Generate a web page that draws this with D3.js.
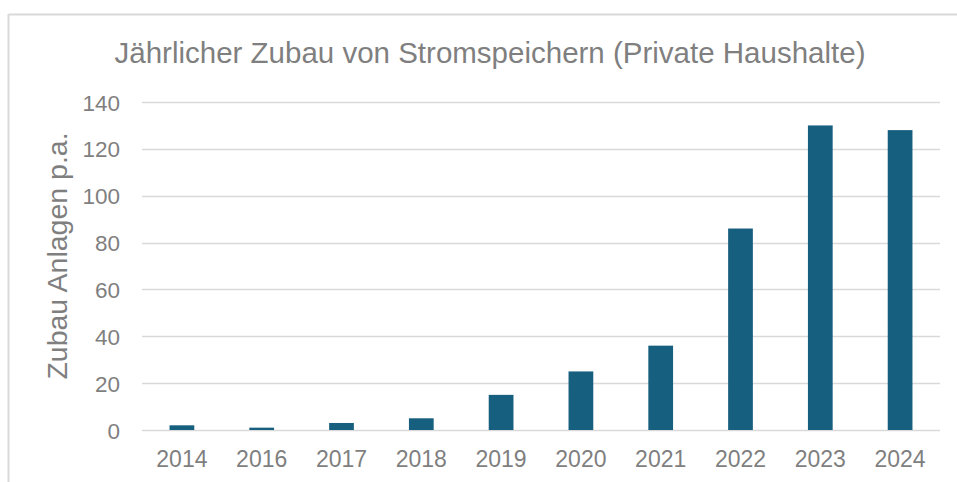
<!DOCTYPE html>
<html lang="de">
<head>
    <meta charset="utf-8" />
    <title>Jährlicher Zubau von Stromspeichern</title>
    <script src="https://d3js.org/d3.v7.min.js"></script>
    <style>
        body {
            margin: 0;
            padding: 0;
            background: #fff;
            font-family: "Liberation Sans", Arial, sans-serif;
        }
    </style>
</head>
<body>
<svg id="chart"></svg>
<script>
    var w = 957;
    var h = 482;

    // Data
    var years = ["2014", "2016", "2017", "2018", "2019", "2020", "2021", "2022", "2023", "2024"];
    var zubau = [2, 1, 3, 5, 15, 25, 36, 86, 130, 128];
    var yTicks = [0, 20, 40, 60, 80, 100, 120, 140];

    var margin = {top: 102, right: 17, bottom: 52, left: 142};

    var svg = d3.select("#chart")
                .attr("width", w)
                .attr("height", h);

    // outer frame (only top and left visible in the crop)
    svg.append("line")
        .attr("x1", 8.5).attr("x2", w)
        .attr("y1", 14.5).attr("y2", 14.5)
        .attr("stroke", "#d9d9d9").attr("stroke-width", 2);
    svg.append("line")
        .attr("x1", 8.5).attr("x2", 8.5)
        .attr("y1", 14).attr("y2", h)
        .attr("stroke", "#d9d9d9").attr("stroke-width", 2);

    var xScale = d3.scaleBand()
                .domain(years)
                .range([margin.left, w - margin.right])
                .paddingInner(0.69)
                .paddingOuter(0.345);

    var yScale = d3.scaleLinear()
                .domain([0, 140])
                .range([h - margin.bottom, margin.top]);

    // gridlines
    svg.selectAll("line.grid")
        .data(yTicks)
        .enter().append("line")
        .attr("class", "grid")
        .attr("x1", margin.left)
        .attr("x2", w - margin.right)
        .attr("y1", function(d) { return Math.round(yScale(d)) + 0.5; })
        .attr("y2", function(d) { return Math.round(yScale(d)) + 0.5; })
        .attr("stroke", "#d9d9d9")
        .attr("stroke-width", 1.5);

    // y tick labels
    svg.selectAll("text.ytick")
        .data(yTicks)
        .enter().append("text")
        .attr("class", "ytick")
        .attr("x", 120)
        .attr("y", function(d) { return yScale(d) + 8.5; })
        .attr("text-anchor", "end")
        .attr("font-size", "22.5px")
        .attr("fill", "#7f7f7f")
        .text(function(d) { return d; });

    // bars
    svg.selectAll("rect.bar")
        .data(zubau)
        .enter().append("rect")
        .attr("class", "bar")
        .attr("x", function(d, i) { return xScale(years[i]); })
        .attr("y", function(d) { return yScale(d); })
        .attr("width", xScale.bandwidth())
        .attr("height", function(d) { return yScale(0) - yScale(d); })
        .attr("fill", "#175f7f");

    // x labels
    svg.selectAll("text.xtick")
        .data(years)
        .enter().append("text")
        .attr("class", "xtick")
        .attr("x", function(d) { return xScale(d) + xScale.bandwidth() / 2; })
        .attr("y", 467)
        .attr("text-anchor", "middle")
        .attr("font-size", "23px")
        .attr("fill", "#7f7f7f")
        .text(function(d) { return d; });

    // axis title
    svg.append("text")
        .attr("transform", "translate(67,256) rotate(-90)")
        .attr("text-anchor", "middle")
        .attr("font-size", "28.5px")
        .attr("fill", "#7f7f7f")
        .text("Zubau Anlagen p.a.");

    // chart title
    svg.append("text")
        .attr("x", 490)
        .attr("y", 63)
        .attr("text-anchor", "middle")
        .attr("font-size", "29.5px")
        .attr("fill", "#7f7f7f")
        .text("Jährlicher Zubau von Stromspeichern (Private Haushalte)");
</script>
</body>
</html>
